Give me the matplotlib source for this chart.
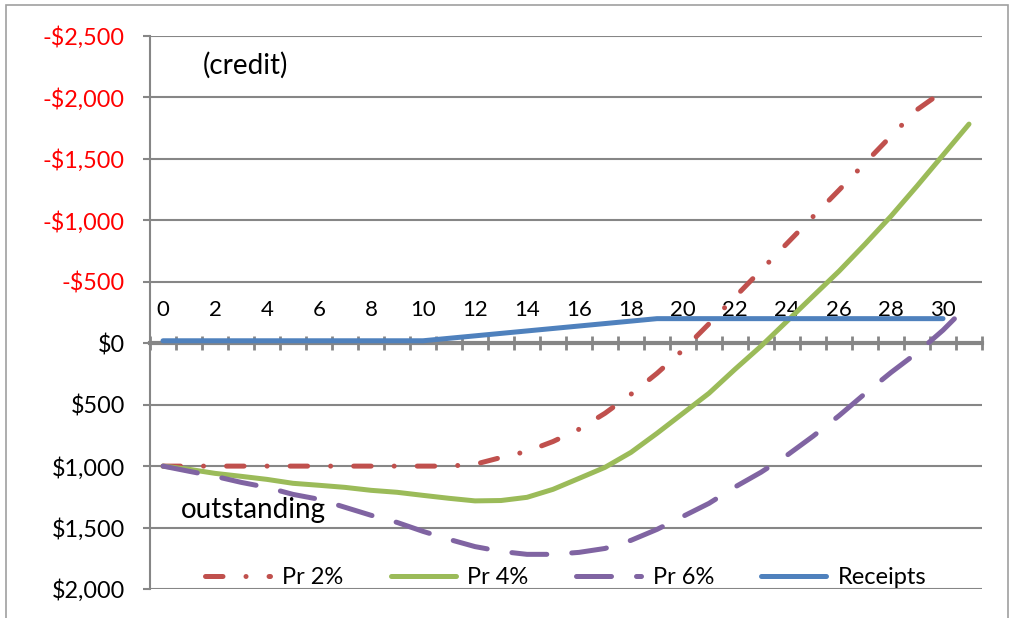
import matplotlib
matplotlib.use("Agg")
from matplotlib import pyplot as plt
from matplotlib.patches import Rectangle
from matplotlib.ticker import FuncFormatter, FixedLocator

plt.rcParams['font.family'] = ['Lato', 'DejaVu Sans']

# month index for each series (category axis)
months = list(range(32))

# balance values (negative = credit, drawn upwards)
pr2 = [1000, 1000, 1000, 1000, 1000, 1000, 1000, 1000, 1000, 1000, 1000, 1000,
       985, 930, 880, 800, 700, 570, 415, 245, 55, -158, -376, -594, -812,
       -1030, -1246, -1466, -1686, -1900, -2050]
pr4 = [1000, 1026, 1059, 1083, 1108, 1140, 1156, 1173, 1197, 1213, 1238, 1262,
       1283, 1280, 1254, 1189, 1100, 1010, 888, 733, 570, 407, 212, 24, -179,
       -383, -586, -806, -1034, -1279, -1531, -1783]
pr6 = [1000, 1042, 1083, 1132, 1173, 1230, 1270, 1335, 1400, 1458, 1531, 1596,
       1655, 1694, 1718, 1718, 1702, 1670, 1604, 1515, 1409, 1303, 1170, 1050,
       912, 757, 590, 410, 238, 78, -106, -318]
receipts = [-20, -20, -20, -20, -20, -20, -20, -20, -20, -20, -20, -40, -60,
            -80, -100, -120, -140, -160, -180, -200, -200, -200, -200, -200,
            -200, -200, -200, -200, -200, -200, -200]

y_ticks = [-2500, -2000, -1500, -1000, -500, 0, 500, 1000, 1500, 2000]
x_labels = list(range(0, 31, 2))

GRID = '#868686'

fig = plt.figure(figsize=(10.13, 6.18), dpi=100)
ax = fig.add_axes([150 / 1013, 29 / 618, 832 / 1013, 553 / 618])

ax.plot(months[:len(pr2)], pr2, color='#C0504D', lw=3.6, label='Pr 2%',
        dashes=(3.5, 4.6, 0.01, 4.6), dash_capstyle='round')
ax.plot(months, pr4, color='#9BBB59', lw=3.6, label='Pr 4%',
        solid_capstyle='round')
ax.plot(months, pr6, color='#8064A2', lw=3.6, label='Pr 6%',
        dashes=(7.0, 5.0), dash_capstyle='round')
ax.plot(months[:len(receipts)], receipts, color='#4F81BD', lw=3.6,
        label='Receipts', solid_capstyle='round')

# axes: inverted y, credit on top
ax.set_ylim(2000, -2500)
ax.set_xlim(-0.5, 31.5)
ax.set_yticks(y_ticks)
ax.yaxis.set_major_formatter(FuncFormatter(
    lambda v, p: f"-${abs(v):,.0f}" if v < 0 else f"${v:,.0f}"))
for lbl, v in zip(ax.get_yticklabels(), y_ticks):
    lbl.set_color('#FF0000' if v < 0 else 'black')
ax.tick_params(axis='y', length=5, width=1.5, color=GRID, pad=13,
               labelsize=16.8)
ax.grid(axis='y', color=GRID, lw=1.5)
ax.set_axisbelow(True)

# x axis sits at zero, labels above it
ax.spines['bottom'].set_position(('data', 0))
ax.spines['bottom'].set_color(GRID)
ax.spines['bottom'].set_linewidth(3)
ax.spines['bottom'].set_zorder(1.5)
ax.spines['left'].set_color(GRID)
ax.spines['left'].set_linewidth(1.5)
ax.spines['top'].set_visible(False)
ax.spines['right'].set_visible(False)
ax.xaxis.set_major_locator(FixedLocator(x_labels))
ax.xaxis.set_minor_locator(FixedLocator([m - 0.5 for m in months + [32]]))
ax.tick_params(axis='x', which='major', length=0, pad=-31, labelsize=16)
ax.tick_params(axis='x', which='minor', direction='inout', length=10,
               width=2, color=GRID)

fig.text(245 / 1013, 1 - 65 / 618, '(credit)', fontsize=20, ha='center',
         va='center')
ax.text(0.69, 1360, 'outstanding', fontsize=20, ha='left', va='center')

ax.legend(loc='lower center', bbox_to_anchor=(0.5, -0.016), ncol=4,
          frameon=False, fontsize=17, handlelength=2.75, handletextpad=0.5,
          columnspacing=2.0, borderaxespad=0)

fig.patches.append(Rectangle((6 / 1013, -0.05), 1002 / 1013, 1.042,
                             transform=fig.transFigure, fill=False,
                             edgecolor='#A0A0A0', lw=1.2))

fig.savefig('out.png', dpi=100)
